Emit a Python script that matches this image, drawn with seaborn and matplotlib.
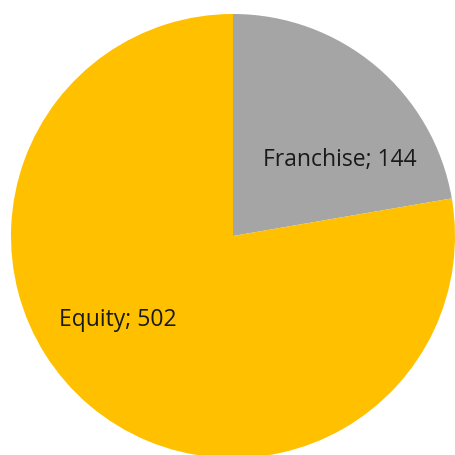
import matplotlib
matplotlib.use("Agg")
import matplotlib.pyplot as plt
import seaborn as sns

# data
labels = ["Franchise", "Equity"]
values = [144, 502]
colors = ["#A5A5A5", "#FFC000"]

sns.set_style("white")
plt.rcParams['font.family'] = ['Open Sans', 'DejaVu Sans']

fig = plt.figure(figsize=(4.55, 4.55), dpi=100)
ax = fig.add_axes([0, 0, 1, 1])

wedges, _ = ax.pie(values, colors=colors, startangle=90, counterclock=False,
                   radius=1.0, wedgeprops=dict(linewidth=0))

# label positions (data units)
label_pos = [(0.48, 0.342), (-0.52, -0.38)]
for lab, val, (x, y) in zip(labels, values, label_pos):
    ax.text(x, y, f"{lab}; {val}", ha="center", va="center", fontsize=16.5, color="#1a1a1a")

ax.set_xlim(-1.0495, 1.0)
ax.set_ylim(-0.9865, 1.063)
ax.set_aspect("auto")
ax.axis("off")

fig.savefig("out.png", dpi=100, facecolor="white")
